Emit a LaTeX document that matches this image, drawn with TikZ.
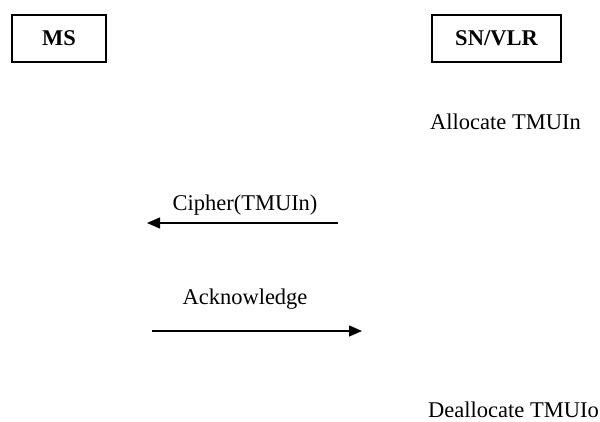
\documentclass[tikz,border=0pt]{standalone}
\usepackage{fontspec}
\setmainfont{Liberation Serif}
\usetikzlibrary{arrows.meta}
\begin{document}
\begin{tikzpicture}[x=1pt,y=-1pt,
  entity/.style={draw, line width=1.3pt, minimum height=47pt, inner sep=0pt, font=\fontsize{22.5}{26}\selectfont\bfseries},
  lbl/.style={inner sep=0pt, font=\fontsize{22.5}{26}\selectfont},
  msg/.style={line width=1.3pt, -{Triangle[length=13pt,width=11pt]}}]
\useasboundingbox (0,0) rectangle (600,421);
% the two parties
\node[entity, minimum width=94pt] (ms) at (59,38.5) {MS};
\node[entity, minimum width=129pt] (vlr) at (496.5,38.5) {SN/VLR};
% local actions at the network side
\node[lbl, anchor=base west] (alloc) at (430,129) {Allocate TMUIn};
\node[lbl, anchor=base west] (dealloc) at (428,417) {Deallocate TMUIo};
% exchanged messages
\node[lbl, anchor=base] (ciph) at (245,210) {Cipher(TMUIn)};
\node[lbl, anchor=base] (ack) at (245,304) {Acknowledge};
\coordinate (c1) at (338,223);
\coordinate (c2) at (147,223);
\coordinate (a1) at (152,331);
\coordinate (a2) at (362,331);
\draw[msg] (c1) -- (c2);
\draw[msg] (a1) -- (a2);
\end{tikzpicture}
\end{document}
